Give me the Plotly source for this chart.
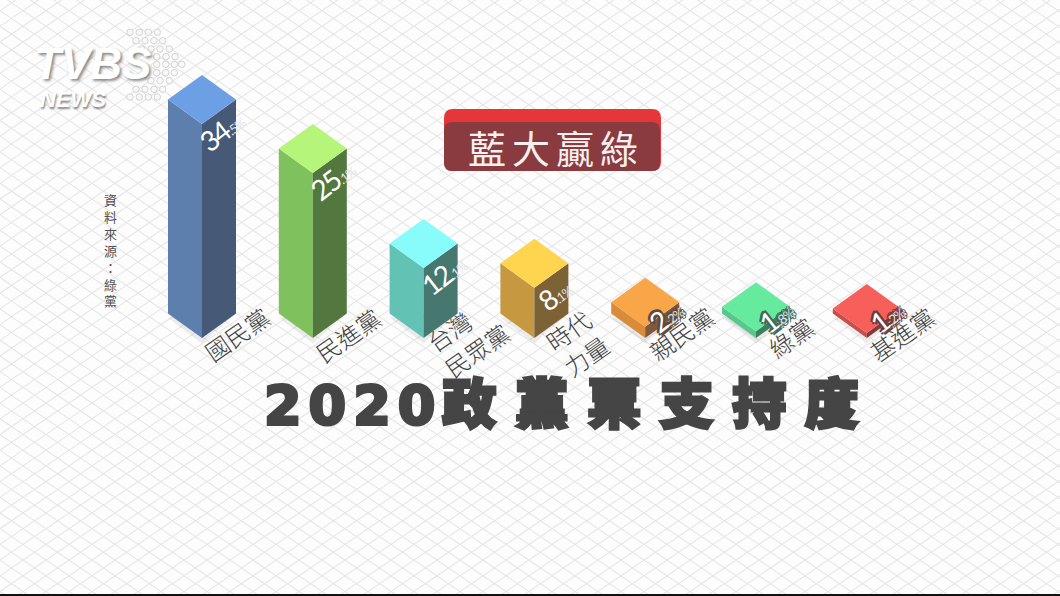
import numpy as np
import plotly.graph_objects as go

# ---- data ----
categories = ["國民黨", "民進黨", "台灣<br>民眾黨", "時代<br>力量", "親民黨", "綠黨", "基進黨"]
shares = [34.5, 25.1, 12.1, 8.1, 2.2, 1.8, 1.2]
column_heights = [34.5, 26.6, 11.3, 8.1, 1.8, 1.1, 0.8]   # column height as drawn, in chart units
top_colors = ["#6c9fe3", "#b5f57a", "#88fbfb", "#ffd54f", "#f9a648", "#66eb9e", "#f7605a"]
left_colors = ["#5c7fae", "#7fc25d", "#62c3b5", "#c6983f", "#d98b3a", "#58c78a", "#c94d4b"]
right_colors = ["#465a78", "#527840", "#47786f", "#7c6235", "#7d5a3e", "#3f7f5f", "#7f3c3c"]
outline_colors = [None, None, None, None, "#5e4a3e", "#41685a", "#6a3c3c"]
label_dx = [0.32, 0.32, 0.40, 0.38, 0.32, 0.32, 0.32]
label_dy = [0.65, 0.5, 0.1, -0.8, 0.8, 0.2, 0.65]
source_chars = list("資料來源：綠黨")
title_digits = "2020"
title_chars = "政黨票支持度"
badge_text = "藍大贏綠"

W, H = 1060, 596
X0, DX = 202.0, 110.8     # pixel of first column, pixels per category
Y0, DY = 338.0, 6.2       # pixel of baseline, pixels per unit
HALF_W = 34 / DX
HALF_D = 24.5 / DY


def to_x(px):
    return (px - X0) / DX


def to_y(py):
    return (Y0 - py) / DY


fig = go.Figure()

# isometric paper grid
GRID_V, GRID_W = 15.7, 23.0
slope = GRID_V / GRID_W
gx, gy, hx, hy = [], [], [], []
for c in np.arange(-900, 1400, GRID_V):
    gx += [to_x(0), to_x(W), None]
    gy += [to_y(c), to_y(c + slope * W), None]
    hx += [to_x(0), to_x(W), None]
    hy += [to_y(c), to_y(c - slope * W), None]
fig.add_trace(go.Scatter(x=gx + hx, y=gy + hy, mode="lines",
                         line=dict(color="#e6e6e6", width=1.1), hoverinfo="skip", showlegend=False))

# logo dots
dot_rows = [(32.3, [130, 139.3, 148.3, 157.3]), (40.7, [136, 145, 154, 162.7]),
            (49, [141.7, 151, 160, 169.3]), (56.7, [156.7, 166, 175]),
            (64.3, [156.7, 165.7, 174.3, 181.7]), (72.7, [156.7, 165.7, 174.3]),
            (80.7, [151, 160, 169.3]), (89.3, [136, 145, 154, 162.7]),
            (97, [130, 139.3, 148.3, 157.3])]
dx_, dy_ = [], []
for ry, xs in dot_rows:
    for xv in xs:
        dx_.append(to_x(xv))
        dy_.append(to_y(ry))
fig.add_trace(go.Scatter(x=dx_, y=dy_, mode="markers", hoverinfo="skip", showlegend=False,
                         marker=dict(size=6.5, color="#f8f8f8", line=dict(color="#d4d4d4", width=1))))

# columns
for i, h in enumerate(column_heights):
    fig.add_trace(go.Scatter(
        x=[i - HALF_W, i, i + HALF_W, i], y=[HALF_D - 0.7, -0.9, HALF_D, HALF_D],
        fill="toself", mode="none", fillcolor="rgba(0,0,0,0.07)", hoverinfo="skip", showlegend=False))
    fig.add_trace(go.Scatter(
        x=[i - HALF_W, i, i, i - HALF_W], y=[HALF_D, 0, h, h + HALF_D],
        fill="toself", mode="none", fillcolor=left_colors[i], hoverinfo="skip", showlegend=False))
    fig.add_trace(go.Scatter(
        x=[i, i + HALF_W, i + HALF_W, i], y=[0, HALF_D, h + HALF_D, h],
        fill="toself", mode="none", fillcolor=right_colors[i], hoverinfo="skip", showlegend=False))
    fig.add_trace(go.Scatter(
        x=[i, i + HALF_W, i, i - HALF_W], y=[h, h + HALF_D, h + 2 * HALF_D, h + HALF_D],
        fill="toself", mode="none", fillcolor=top_colors[i], hoverinfo="skip", showlegend=False))

annotations = []
CJK = "Noto Sans CJK TC"
CENTER = dict(xanchor="center", yanchor="middle", showarrow=False)

# category labels
for i, cat in enumerate(categories):
    annotations.append(dict(x=i + label_dx[i], y=label_dy[i], xref="x", yref="y", text=cat,
                            textangle=-35, align="left", **CENTER,
                            font=dict(family=CJK, size=24, weight=300, color="#3f3f3f")))

# value labels
for i, v in enumerate(shares):
    whole, frac = f"{v:.1f}".split(".")
    txt = (f"<span style=\"letter-spacing:-2px\">{whole}</span>"
           f"<span style=\"font-size:13px;letter-spacing:-1px;fill:#e4e4e4\">.{frac}%</span>")
    y = max(column_heights[i] - 1.0, 3.55)
    c = outline_colors[i]
    shadow = (f"2px 1px 0 {c}, -2px 1px 0 {c}, 2px -2px 0 {c}, -2px -2px 0 {c}, 0 3px 0 {c}, 0 -3px 0 {c}"
              if c else "none")
    annotations.append(dict(x=i + 0.18, y=y, xref="x", yref="y", text=txt, textangle=-38, **CENTER,
                            font=dict(family="Lato", size=28, color="#ffffff", shadow=shadow)))


def px_x(p):
    return p / W


def px_y(p):
    return 1 - p / H


def rrect(x0, y0, x1, y1, r):
    pts = [("M", x0 + r, y0), ("L", x1 - r, y0), ("Q", x1, y0, x1, y0 + r), ("L", x1, y1 - r),
           ("Q", x1, y1, x1 - r, y1), ("L", x0 + r, y1), ("Q", x0, y1, x0, y1 - r), ("L", x0, y0 + r),
           ("Q", x0, y0, x0 + r, y0)]
    out = []
    for p in pts:
        coords = p[1:]
        s = " ".join(f"{px_x(coords[k]):.5f},{px_y(coords[k + 1]):.5f}" for k in range(0, len(coords), 2))
        out.append(f"{p[0]} {s}")
    return " ".join(out) + " Z"


shapes = [
    dict(type="path", xref="paper", yref="paper", path=rrect(444, 109, 661, 171, 9),
         fillcolor="#e5363a", line=dict(width=0)),
    dict(type="path", xref="paper", yref="paper", path=rrect(444, 122, 660, 171, 8),
         fillcolor="#8a3b40", line=dict(width=0)),
    dict(type="rect", xref="paper", yref="paper", x0=0, x1=1, y0=0, y1=px_y(594),
         fillcolor="#111111", line=dict(width=0)),
]

# badge
annotations.append(dict(x=px_x(556), y=px_y(147), xref="paper", yref="paper", **CENTER,
                        text=f"<span style=\"letter-spacing:6px\">{badge_text}</span>",
                        font=dict(family=CJK, size=38, color="#f4f0f0")))

# headline
annotations.append(dict(x=px_x(570), y=px_y(401), xref="paper", yref="paper", **CENTER,
                        text=(f"<span style=\"letter-spacing:7px;font-family:'DejaVu Sans';"
                              f"stroke:#454545;stroke-width:3px\">{title_digits}</span>"
                              f"<span style=\"letter-spacing:18.5px;stroke:#454545;stroke-width:3px\">{title_chars}</span>"),
                        font=dict(family=CJK, size=54, weight=900, color="#454545")))

# source
annotations.append(dict(x=px_x(110), y=px_y(250), xref="paper", yref="paper", **CENTER,
                        text="<br>".join(source_chars),
                        font=dict(family=CJK, size=13, color="#505050")))

# logo text
annotations.append(dict(x=px_x(92), y=px_y(64), xref="paper", yref="paper", **CENTER,
                        text="<b><i>TVBS</i></b>",
                        font=dict(family="Liberation Sans", size=44, color="#ffffff",
                                  shadow="2px 2px 3px rgba(0,0,0,0.45)")))
annotations.append(dict(x=px_x(73), y=px_y(100), xref="paper", yref="paper", **CENTER,
                        text="<b><i>NEWS</i></b>",
                        font=dict(family="Liberation Sans", size=22, color="#ffffff",
                                  shadow="1px 2px 2px rgba(0,0,0,0.45)")))

fig.update_layout(
    width=W, height=H, margin=dict(l=0, r=0, t=0, b=0),
    paper_bgcolor="#fdfdfd", plot_bgcolor="#fdfdfd", showlegend=False, hovermode=False,
    xaxis=dict(range=[to_x(0), to_x(W)], visible=False, fixedrange=True),
    yaxis=dict(range=[to_y(H), to_y(0)], visible=False, fixedrange=True),
    shapes=shapes, annotations=annotations,
)

fig.write_html("out.html", config=dict(displayModeBar=False),
               post_script="document.body.style.margin='0';")
